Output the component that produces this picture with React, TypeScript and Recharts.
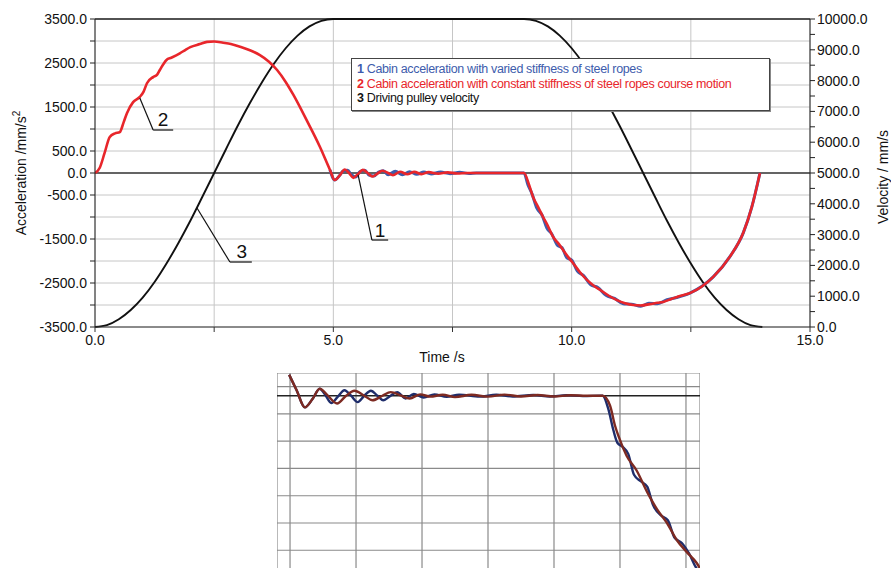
import React from 'react';
import {
  LineChart, Line, XAxis, YAxis, CartesianGrid, ReferenceLine, ReferenceDot,
} from 'recharts';

// ---- main chart data ----
// driving pulley velocity (mm/s)
const velTime = [0, 0.25, 0.5, 0.75, 1, 1.25, 1.5, 1.75, 2, 2.25, 2.5, 2.75, 3, 3.25, 3.5, 3.75, 4, 4.25, 4.5, 4.75, 5,
  9, 9.25, 9.5, 9.75, 10, 10.25, 10.5, 10.75, 11, 11.25, 11.5, 11.75, 12, 12.25, 12.5, 12.75, 13, 13.25, 13.5, 13.75, 14];
const velValue = [0, 60, 250, 550, 950, 1460, 2060, 2730, 3450, 4220, 5000, 5780, 6550, 7270, 7940, 8540, 9050, 9460, 9760, 9940, 10000,
  10000, 9940, 9760, 9460, 9050, 8540, 7940, 7270, 6550, 5780, 5000, 4220, 3450, 2730, 2060, 1460, 950, 550, 250, 60, 0];

// cabin acceleration, constant stiffness (mm/s2)
const redTime = [0, 0.1, 0.2, 0.31, 0.42, 0.52, 0.6, 0.67, 0.8, 0.94, 1.02, 1.09, 1.22, 1.3, 1.36, 1.5, 1.6, 1.78, 1.9, 2.0,
  2.2, 2.35, 2.5, 2.69, 2.85, 3.04, 3.25, 3.46, 3.65, 3.82, 4.0, 4.16, 4.44, 4.72, 4.93, 5.03, 5.13, 5.24, 5.33, 5.42, 5.52,
  5.62, 5.72, 5.82, 5.93, 6.03, 6.15, 6.25, 6.4, 6.55, 6.7, 6.85, 7.0, 7.2, 7.4, 7.6, 7.8, 9.0,
  9.1, 9.19, 9.3, 9.4, 9.5, 9.61, 9.72, 9.82, 9.92, 10.03, 10.17, 10.32, 10.45, 10.6, 10.78, 10.95, 11.12, 11.29, 11.45,
  11.64, 11.8, 11.92, 12.1, 12.25, 12.48, 12.97, 13.32, 13.6, 13.78, 13.95];
const redValue = [0, 120, 450, 820, 900, 930, 1150, 1360, 1610, 1730, 1850, 2040, 2180, 2230, 2340, 2570, 2620, 2720, 2800, 2860,
  2930, 2980, 2990, 2960, 2930, 2870, 2790, 2680, 2530, 2340, 2070, 1780, 1200, 590, 70, -160, -60, 80, 0, -110, -20,
  70, 0, -80, -10, 50, 0, -50, 30, -30, 25, -25, 20, -15, 15, -10, 0, 0,
  -250, -545, -780, -1000, -1200, -1450, -1600, -1750, -1900, -2050, -2250, -2430, -2550, -2660, -2790, -2890, -2960, -3000, -3010,
  -2980, -2950, -2930, -2860, -2800, -2730, -2360, -1900, -1360, -770, 0];

// cabin acceleration, varied stiffness (mm/s2)
const blueTime = [4.93, 5.03, 5.13, 5.2, 5.3, 5.38, 5.47, 5.56, 5.66, 5.75, 5.85, 5.95, 6.05, 6.15, 6.3, 6.45, 6.6, 6.75, 6.9,
  7.05, 7.25, 7.45, 7.65, 7.85, 8.0, 9.0,
  9.08, 9.17, 9.27, 9.38, 9.48, 9.58, 9.7, 9.8, 9.9, 10.0, 10.12, 10.25, 10.4, 10.55, 10.72, 10.9, 11.08, 11.25, 11.45,
  11.62, 11.8, 12.0, 12.2, 12.48, 12.97, 13.32, 13.6, 13.78, 13.95];
const blueValue = [70, -160, -60, 40, 60, -40, -90, 30, 60, -50, -70, 20, 50, -40, 40, -40, 30, -30, 25,
  -20, 20, -15, 15, -10, 0, 0,
  -260, -480, -800, -960, -1250, -1380, -1640, -1700, -1930, -1980, -2230, -2330, -2540, -2600, -2780, -2850, -2970, -2980, -3030,
  -2960, -2970, -2880, -2830, -2730, -2360, -1900, -1360, -770, 0];

const accTicks = [-3500, -3000, -2500, -2000, -1500, -1000, -500, 0, 500, 1000, 1500, 2000, 2500, 3000, 3500];
const accLabels = [-3500, -2500, -1500, -500, 0, 500, 1500, 2500, 3500];
const velTicks = [0, 500, 1000, 1500, 2000, 2500, 3000, 3500, 4000, 4500, 5000, 5500, 6000, 6500, 7000, 7500, 8000, 8500, 9000, 9500, 10000];
const timeTicks = [0, 2.5, 5, 7.5, 10, 12.5, 15];
const timeLabels = [0, 5, 10, 15];

const legendItems = [
  { num: '1', text: 'Cabin acceleration with varied stiffness of steel ropes', color: '#3d5cac' },
  { num: '2', text: 'Cabin acceleration with constant stiffness of steel ropes course motion', color: '#e8262b' },
  { num: '3', text: 'Driving pulley velocity', color: '#111111' },
];

// leader-line callouts, in data coordinates (time, acceleration)
const callouts = [
  { label: '2', path: [[0.94, 1705], [1.22, 977], [1.64, 977]], at: [1.43, 1230] },
  { label: '3', path: [[2.14, -795], [2.83, -2023], [3.29, -2023]], at: [3.08, -1770] },
  { label: '1', path: [[5.52, -45], [5.81, -1523], [6.15, -1523]], at: [5.98, -1290] },
];

// ---- inset (zoomed detail) data ----
const insetRedTime = [4.99, 5.08, 5.18, 5.27, 5.36, 5.45, 5.57, 5.68, 5.78, 5.9, 6.0, 6.12, 6.22, 6.35, 6.45, 6.58, 6.7, 6.85,
  7.0, 7.2, 7.4, 7.6, 7.8, 8.0, 8.2, 8.4, 8.6, 8.79, 8.88, 8.94, 8.98, 9.08, 9.2, 9.33, 9.45, 9.57, 9.69, 9.81, 9.93, 9.97];
const insetRedValue = [230, 60, -128, -40, 77, 10, -85, 0, 55, 0, -50, 0, 40, 0, -30, 15, -10, 10,
  -15, 10, -10, 12, -8, 8, -8, 5, 0, 0, -110, -330, -440, -660, -820, -1060, -1250, -1400, -1590, -1720, -1840, -1900];
const insetBlueTime = [4.99, 5.08, 5.18, 5.27, 5.36, 5.42, 5.5, 5.58, 5.66, 5.74, 5.82, 5.9, 5.98, 6.06, 6.13, 6.22, 6.3,
  6.4, 6.5, 6.62, 6.75, 6.9, 7.05, 7.3, 7.5, 7.7, 7.95, 8.15, 8.35, 8.55, 8.79, 8.86, 8.92, 8.97, 9.03, 9.1, 9.17, 9.25,
  9.33, 9.4, 9.5, 9.58, 9.66, 9.75, 9.84, 9.93, 9.97];
const insetBlueValue = [230, 60, -128, -40, 77, 20, -80, -10, 60, 0, -70, 0, 55, 0, -50, 0, 40,
  -30, 20, -20, 15, -12, 12, -10, 10, -8, 8, -8, 6, -4, 0, -150, -380, -520, -560, -640, -870, -940,
  -1000, -1200, -1320, -1370, -1560, -1620, -1740, -1900, -1930];
const insetTimeTicks = [5.0, 5.8, 6.6, 7.4, 8.2, 9.0, 9.8];
const insetAccTicks = [100, -200, -500, -800, -1100, -1400, -1700];

const FONT = "'Liberation Sans', Arial, Helvetica, sans-serif";

const toPoints = (ts: number[], vs: number[]) => ts.map((t, i) => ({ t, v: vs[i] }));

const AccTick = (p: any) => {
  const v = p.payload.value;
  if (!accLabels.includes(v)) return <g />;
  return (
    <text x={p.x} y={p.y} dy={5} textAnchor="end" fontSize={14} fill="#111" fontFamily={FONT}>
      {v.toFixed(1)}
    </text>
  );
};

const VelTick = (p: any) => {
  const v = p.payload.value;
  if (v % 1000 !== 0) return <g />;
  return (
    <text x={p.x} y={p.y} dy={5} textAnchor="start" fontSize={14} fill="#111" fontFamily={FONT}>
      {v.toFixed(1)}
    </text>
  );
};

const TimeTick = (p: any) => {
  const v = p.payload.value;
  if (!timeLabels.includes(v)) return <g />;
  return (
    <text x={p.x} y={p.y} dy={11} textAnchor="middle" fontSize={14} fill="#111" fontFamily={FONT}>
      {v.toFixed(1)}
    </text>
  );
};

export default function App() {
  const velData = toPoints(velTime, velValue);
  const redData = toPoints(redTime, redValue);
  const blueData = toPoints(blueTime, blueValue);
  const insetRed = toPoints(insetRedTime, insetRedValue);
  const insetBlue = toPoints(insetBlueTime, insetBlueValue);

  return (
    <div style={{ position: 'absolute', left: 0, top: 0, width: 891, height: 568, overflow: 'hidden', background: '#fff', fontFamily: FONT }}>
      <div style={{ position: 'absolute', left: 0, top: 0 }}>
        <LineChart width={891} height={360} margin={{ top: 19, right: 15, left: 15, bottom: 3 }}>
          <CartesianGrid stroke="#c6c6c6" strokeWidth={1} />
          <XAxis
            type="number" dataKey="t" domain={[0, 15]} ticks={timeTicks} height={30}
            tick={<TimeTick />} tickSize={5} tickMargin={2} stroke="#333" allowDataOverflow
          />
          <YAxis
            type="number" dataKey="v" domain={[-3500, 3500]} ticks={accTicks} width={80}
            tick={<AccTick />} tickSize={5} tickMargin={3} stroke="#222" interval={0}
          />
          <YAxis
            yAxisId="vel" orientation="right" type="number" dataKey="v" domain={[0, 10000]} ticks={velTicks} width={66}
            tick={<VelTick />} tickSize={5} tickMargin={2} stroke="#222" interval={0}
          />
          <ReferenceLine y={0} stroke="#3a3a3a" strokeWidth={1.6} />
          <ReferenceLine y={3500} stroke="#222" strokeWidth={1.4} />
          <Line yAxisId="vel" type="monotone" data={velData} dataKey="v" stroke="#111" strokeWidth={1.9} dot={false} isAnimationActive={false} />
          <Line type="monotone" data={blueData} dataKey="v" stroke="#3d5cac" strokeWidth={3} dot={false} isAnimationActive={false} />
          <Line type="monotone" data={redData} dataKey="v" stroke="#e8262b" strokeWidth={2.6} dot={false} isAnimationActive={false} />
          {callouts.map((c) => (
            <ReferenceLine
              key={`l${c.label}`}
              segment={[{ x: c.path[0][0], y: c.path[0][1] }, { x: c.path[1][0], y: c.path[1][1] }]}
              stroke="#111" strokeWidth={1.2} ifOverflow="visible"
            />
          ))}
          {callouts.map((c) => (
            <ReferenceLine
              key={`h${c.label}`}
              segment={[{ x: c.path[1][0], y: c.path[1][1] }, { x: c.path[2][0], y: c.path[2][1] }]}
              stroke="#111" strokeWidth={1.2} ifOverflow="visible"
            />
          ))}
          {callouts.map((c) => (
            <ReferenceDot
              key={`t${c.label}`}
              x={c.at[0]} y={c.at[1]} r={0} ifOverflow="visible"
              shape={(p: any) => (
                <text x={p.cx} y={p.cy} dy={7} textAnchor="middle" fontSize={19} fill="#111" fontFamily={FONT}>
                  {c.label}
                </text>
              )}
            />
          ))}
        </LineChart>
      </div>

      {/* axis titles */}
      <div style={{ position: 'absolute', left: 20, top: 173, transform: 'translate(-50%, -50%) rotate(-90deg)', whiteSpace: 'nowrap', fontSize: 14, color: '#111' }}>
        Acceleration /mm/s<sup style={{ fontSize: 10 }}>2</sup>
      </div>
      <div style={{ position: 'absolute', left: 883, top: 177, transform: 'translate(-50%, -50%) rotate(-90deg)', whiteSpace: 'nowrap', fontSize: 14, color: '#111' }}>
        Velocity / mm/s
      </div>
      <div style={{ position: 'absolute', left: 442, top: 357, transform: 'translate(-50%, -50%)', whiteSpace: 'nowrap', fontSize: 14, color: '#111' }}>
        Time /s
      </div>

      {/* legend */}
      <div style={{
        position: 'absolute', left: 351, top: 58, width: 419, height: 53, background: '#fff',
        border: '1px solid #444', boxShadow: '1px 1px 0 #888', padding: '3px 0 0 5px', boxSizing: 'border-box',
        fontSize: 12.5, lineHeight: '14.5px', letterSpacing: -0.35,
      }}>
        {legendItems.map((it) => (
          <div key={it.num} style={{ color: it.color, whiteSpace: 'nowrap' }}>
            <b>{it.num}</b> {it.text}
          </div>
        ))}
      </div>

      {/* zoomed inset */}
      <div style={{ position: 'absolute', left: 277, top: 373 }}>
        <LineChart width={423} height={200} margin={{ top: 0, right: 0, left: 0, bottom: 0 }}>
          <CartesianGrid stroke="#8a8a8a" strokeWidth={1.2} />
          <XAxis type="number" dataKey="t" domain={[4.842, 9.97]} ticks={insetTimeTicks} hide allowDataOverflow />
          <YAxis type="number" dataKey="v" domain={[-1950, 250]} ticks={insetAccTicks} hide allowDataOverflow interval={0} />
          <ReferenceLine y={0} stroke="#222" strokeWidth={1.6} />
          <Line type="monotone" data={insetBlue} dataKey="v" stroke="#1f2d6b" strokeWidth={2.4} dot={false} isAnimationActive={false} />
          <Line type="monotone" data={insetRed} dataKey="v" stroke="#7d2a22" strokeWidth={2.4} dot={false} isAnimationActive={false} />
        </LineChart>
      </div>
    </div>
  );
}
